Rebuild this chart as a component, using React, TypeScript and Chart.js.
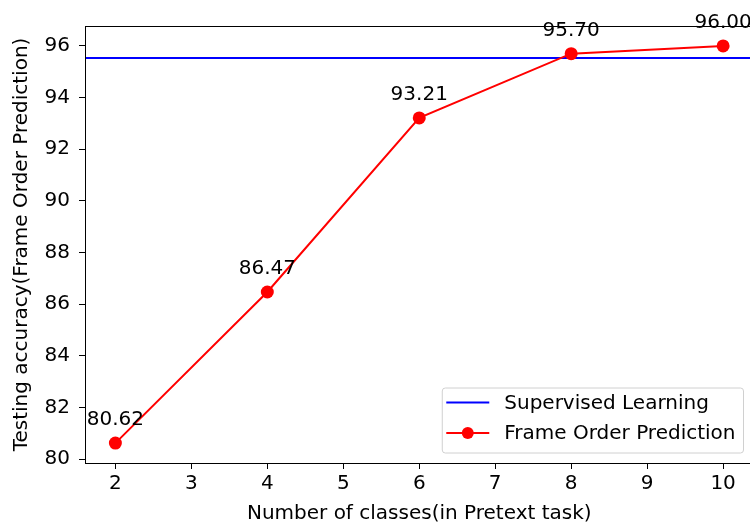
import React, { useEffect, useRef } from "react";
import { Chart, registerables } from "chart.js";

Chart.register(...registerables);

const CLASSES = [2, 4, 6, 8, 10];
const FOP_ACC = [80.62, 86.47, 93.21, 95.7, 96.0];
const SUPERVISED_ACC = 95.53;
const X_TICKS = [2, 3, 4, 5, 6, 7, 8, 9, 10];
const Y_TICKS = [80, 82, 84, 86, 88, 90, 92, 94, 96];
const X_LIMITS = [1.6, 10.4];
const Y_LIMITS = [79.85, 96.77];
const LABEL_SUP = "Supervised Learning";
const LABEL_FOP = "Frame Order Prediction";
const X_TITLE = "Number of classes(in Pretext task)";
const Y_TITLE = "Testing accuracy(Frame Order Prediction)";

const FONT = "DejaVu Sans";
const FS = 20;

const framePlugin = {
  id: "frame",
  afterDatasetsDraw(chart: any) {
    const { ctx, chartArea } = chart;
    ctx.save();
    ctx.strokeStyle = "#000";
    ctx.lineWidth = 1;
    ctx.strokeRect(
      Math.round(chartArea.left) + 0.5,
      Math.round(chartArea.top) + 0.5,
      chartArea.right - chartArea.left,
      chartArea.bottom - chartArea.top
    );
    ctx.restore();
  },
};

const annotationPlugin = {
  id: "valueLabels",
  afterDatasetsDraw(chart: any) {
    const { ctx } = chart;
    const meta = chart.getDatasetMeta(0);
    ctx.save();
    ctx.font = `${FS}px "${FONT}"`;
    ctx.fillStyle = "#000";
    ctx.textAlign = "center";
    ctx.textBaseline = "alphabetic";
    meta.data.forEach((pt: any, i: number) => {
      ctx.fillText(FOP_ACC[i].toFixed(2), pt.x, pt.y - 18);
    });
    ctx.restore();
  },
};

const legendPlugin = {
  id: "mplLegend",
  afterDraw(chart: any) {
    const { ctx, chartArea } = chart;
    ctx.save();
    ctx.font = `${FS}px "${FONT}"`;
    const tw = Math.max(ctx.measureText(LABEL_SUP).width, ctx.measureText(LABEL_FOP).width);
    const padL = 4;
    const handle = 43;
    const gap = 15;
    const padR = 8;
    const w = padL + handle + gap + tw + padR;
    const h = 65;
    const right = chartArea.right - 10;
    const bottom = chartArea.bottom - 10;
    const left = right - w;
    const top = bottom - h;
    ctx.beginPath();
    const r = 3;
    ctx.moveTo(left + r, top);
    ctx.arcTo(right, top, right, bottom, r);
    ctx.arcTo(right, bottom, left, bottom, r);
    ctx.arcTo(left, bottom, left, top, r);
    ctx.arcTo(left, top, right, top, r);
    ctx.closePath();
    ctx.fillStyle = "rgba(255,255,255,0.8)";
    ctx.fill();
    ctx.strokeStyle = "#d0d0d0";
    ctx.lineWidth = 1;
    ctx.stroke();

    const rows = [
      { label: LABEL_SUP, color: "#0000ff", marker: false, y: top + 14.5 },
      { label: LABEL_FOP, color: "#ff0000", marker: true, y: top + 45 },
    ];
    rows.forEach((row) => {
      ctx.strokeStyle = row.color;
      ctx.lineWidth = 2;
      ctx.beginPath();
      ctx.moveTo(left + padL, row.y);
      ctx.lineTo(left + padL + handle, row.y);
      ctx.stroke();
      if (row.marker) {
        ctx.fillStyle = row.color;
        ctx.beginPath();
        ctx.arc(left + padL + handle / 2, row.y, 6, 0, Math.PI * 2);
        ctx.fill();
      }
      ctx.fillStyle = "#000";
      ctx.textAlign = "left";
      ctx.textBaseline = "middle";
      ctx.fillText(row.label, left + padL + handle + gap, row.y + 1);
    });
    ctx.restore();
  },
};

export default function App() {
  const ref = useRef<HTMLCanvasElement>(null);

  useEffect(() => {
    if (!ref.current) return;
    const chart = new Chart(ref.current, {
      type: "line",
      data: {
        datasets: [
          {
            label: LABEL_FOP,
            data: CLASSES.map((c, i) => ({ x: c, y: FOP_ACC[i] })),
            borderColor: "#ff0000",
            backgroundColor: "#ff0000",
            borderWidth: 2,
            pointRadius: 6.5,
            pointBorderWidth: 0,
            pointBackgroundColor: "#ff0000",
            tension: 0,
            order: 0,
          },
          {
            label: LABEL_SUP,
            data: X_LIMITS.map((x) => ({ x, y: SUPERVISED_ACC })),
            borderColor: "#0000ff",
            backgroundColor: "#0000ff",
            borderWidth: 2,
            pointRadius: 0,
            tension: 0,
            order: 1,
          },
        ],
      },
      options: {
        responsive: false,
        animation: false,
        layout: { padding: { top: 26, right: 5, left: 0, bottom: 0 } },
        plugins: {
          legend: { display: false },
          tooltip: { enabled: false },
        },
        scales: {
          x: {
            type: "linear",
            min: X_LIMITS[0],
            max: X_LIMITS[1],
            afterBuildTicks: (s: any) => {
              s.ticks = X_TICKS.map((v) => ({ value: v }));
            },
            afterFit: (s: any) => {
              s.height = 63;
            },
            grid: {
              display: true,
              drawOnChartArea: false,
              drawTicks: true,
              tickLength: 6,
              tickColor: "#000",
              color: "#000",
            },
            border: { display: true, color: "#000", width: 1 },
            ticks: {
              color: "#000",
              font: { family: FONT, size: FS },
              padding: 3,
              maxRotation: 0,
              autoSkip: false,
            },
            title: {
              display: true,
              text: X_TITLE,
              color: "#000",
              font: { family: FONT, size: FS },
              padding: { top: 0, bottom: 0 },
            },
          },
          y: {
            type: "linear",
            min: Y_LIMITS[0],
            max: Y_LIMITS[1],
            afterBuildTicks: (s: any) => {
              s.ticks = Y_TICKS.map((v) => ({ value: v }));
            },
            afterFit: (s: any) => {
              s.width = 85;
            },
            grid: {
              display: true,
              drawOnChartArea: false,
              drawTicks: true,
              tickLength: 6,
              tickColor: "#000",
              color: "#000",
            },
            border: { display: true, color: "#000", width: 1 },
            ticks: {
              color: "#000",
              font: { family: FONT, size: FS },
              padding: 9,
              autoSkip: false,
            },
            title: {
              display: true,
              text: Y_TITLE,
              color: "#000",
              font: { family: FONT, size: FS },
              padding: { top: 10, bottom: 0 },
            },
          },
        },
      },
      plugins: [framePlugin, annotationPlugin, legendPlugin],
    });
    return () => chart.destroy();
  }, []);

  return (
    <div
      style={{
        position: "absolute",
        left: 0,
        top: 0,
        width: 750,
        height: 526,
        overflow: "hidden",
        background: "#fff",
      }}
    >
      <canvas ref={ref} width={760} height={526} style={{ display: "block", width: 760, height: 526 }} />
    </div>
  );
}
